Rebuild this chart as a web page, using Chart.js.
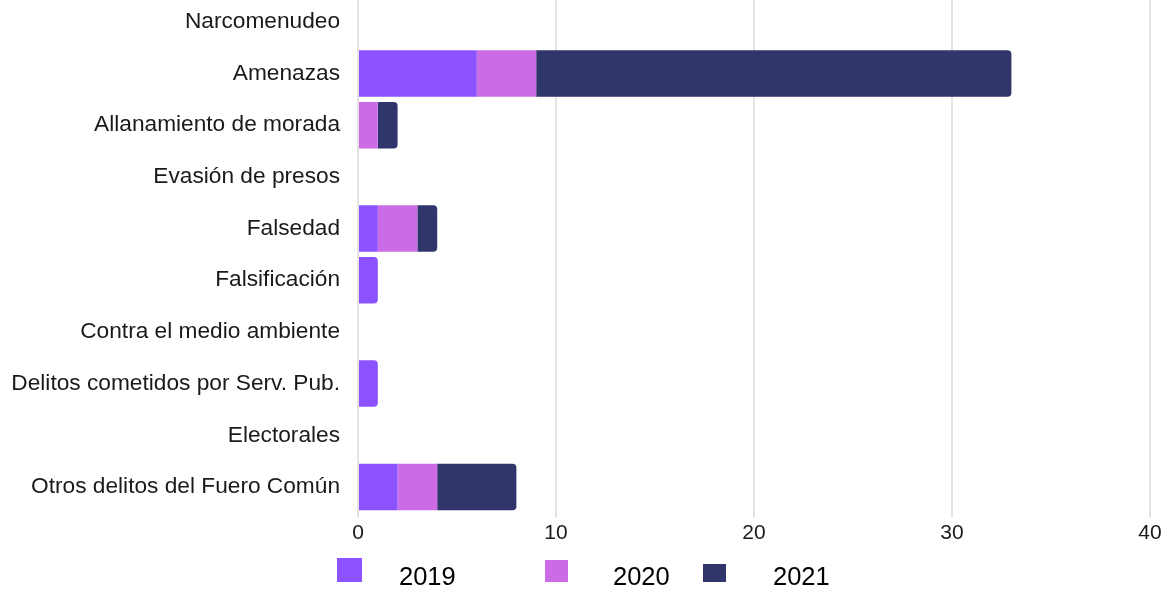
<!DOCTYPE html>
<html>
<head>
<meta charset="utf-8">
<script src="https://cdn.jsdelivr.net/npm/chart.js@4.4.0/dist/chart.umd.min.js"></script>
<style>
  html, body { margin: 0; padding: 0; background: #fff; }
  #wrap { position: relative; width: 1170px; height: 592px; overflow: hidden; }
  #chartBox { position: absolute; left: 0; top: -4px; width: 1170px; height: 553px; }
  #legend { position: absolute; left: 0; top: 0; width: 1170px; height: 592px; pointer-events: none; }
  .lg-box { position: absolute; }
  .lg-text { position: absolute; font-family: "Liberation Sans", Arial, sans-serif; font-size: 25.5px; color: #000; line-height: 1; }
</style>
</head>
<body>
<div id="wrap">
  <div id="chartBox"><canvas id="delitosChart"></canvas></div>
  <div id="legend"></div>
</div>
<script>
// categorias del eje vertical
const categories = [
    'Narcomenudeo',
    'Amenazas',
    'Allanamiento de morada',
    'Evasión de presos',
    'Falsedad',
    'Falsificación',
    'Contra el medio ambiente',
    'Delitos cometidos por Serv. Pub.',
    'Electorales',
    'Otros delitos del Fuero Común'
];

// valores por año
const values2019 = [0, 6, 0, 0, 1, 1, 0, 1, 0, 2];
const values2020 = [0, 3, 1, 0, 2, 0, 0, 0, 0, 2];
const values2021 = [0, 24, 1, 0, 1, 0, 0, 0, 0, 4];

const seriesLabels = ['2019', '2020', '2021'];
const seriesColors = ['#8c52ff', '#cb6ce6', '#30366b'];

const xTicks = [0, 10, 20, 30, 40];

const ctx = document.getElementById('delitosChart').getContext('2d');

const delitosChart = new Chart(ctx, {
    type: 'bar',
    data: {
        labels: categories,
        datasets: [values2019, values2020, values2021].map((vals, i) => ({
            label: seriesLabels[i],
            data: vals,
            backgroundColor: seriesColors[i],
            borderWidth: 0,
            borderRadius: 4,
            barPercentage: 0.9,
            categoryPercentage: 1.0
        }))
    },
    options: {
        indexAxis: 'y',
        responsive: true,
        maintainAspectRatio: false,
        animation: false,
        layout: { padding: { right: 20, top: 0, bottom: 0, left: 0 } },
        plugins: {
            legend: { display: false },
            tooltip: { enabled: false }
        },
        scales: {
            x: {
                stacked: true,
                min: xTicks[0],
                max: xTicks[xTicks.length - 1],
                afterBuildTicks: (scale) => { scale.ticks = xTicks.map(v => ({ value: v })); },
                grid: { color: '#e4e4e4', lineWidth: 2, drawTicks: true, tickLength: 5 },
                border: { display: false },
                ticks: {
                    color: '#1a1a1a',
                    font: { family: '"Liberation Sans", Arial, sans-serif', size: 21 },
                    padding: 3
                }
            },
            y: {
                stacked: true,
                grid: { display: false, drawTicks: false },
                border: { display: false },
                afterFit: (scale) => {
                    scale.width = 358;
                    // no dejar espacio arriba/abajo por las etiquetas
                    scale.paddingTop = 0;
                    scale.paddingBottom = 0;
                },
                ticks: {
                    color: '#1a1a1a',
                    font: { family: '"Liberation Sans", Arial, sans-serif', size: 22.7 },
                    padding: 18
                }
            }
        }
    }
});

// leyenda abajo
const legendEl = document.getElementById('legend');
const legendBoxes = [
    { x: 337, y: 558, w: 25, h: 24, tx: 399 },
    { x: 545, y: 560, w: 23, h: 22, tx: 613 },
    { x: 703, y: 564, w: 23, h: 18, tx: 773 }
];
seriesLabels.forEach((lab, i) => {
    const b = legendBoxes[i];
    const box = document.createElement('div');
    box.className = 'lg-box';
    box.style.left = b.x + 'px';
    box.style.top = b.y + 'px';
    box.style.width = b.w + 'px';
    box.style.height = b.h + 'px';
    box.style.background = seriesColors[i];
    legendEl.appendChild(box);
    const txt = document.createElement('div');
    txt.className = 'lg-text';
    txt.style.left = b.tx + 'px';
    txt.style.top = '564px';
    txt.textContent = lab;
    legendEl.appendChild(txt);
});
</script>
</body>
</html>
